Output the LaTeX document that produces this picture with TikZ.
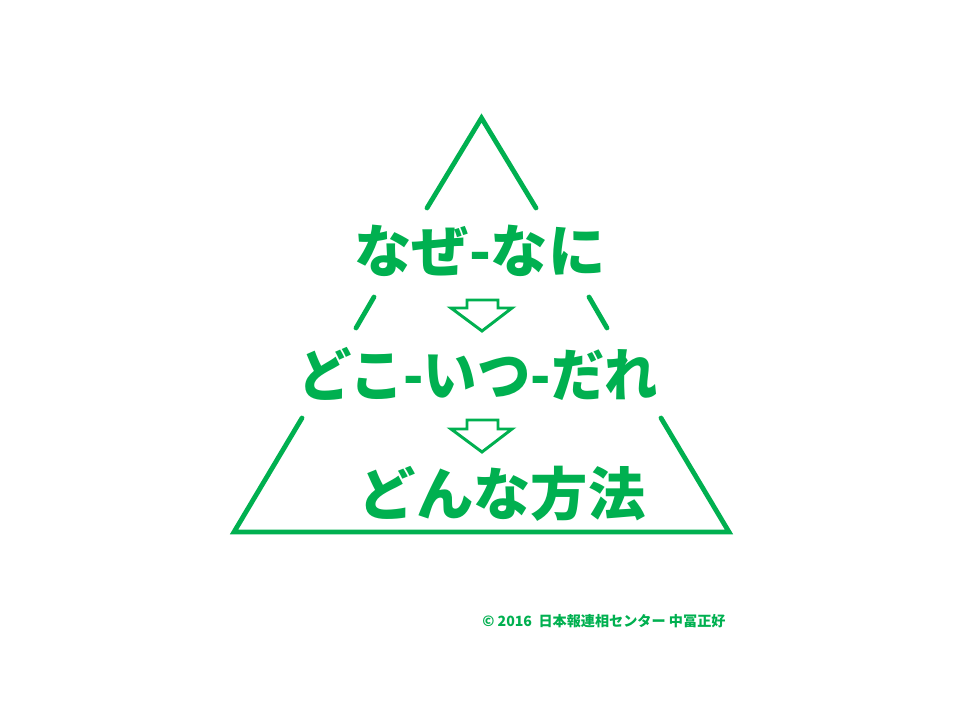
\documentclass[tikz,border=0pt]{standalone}
\usepackage{fontspec}
\newfontfamily\jp{Noto Sans CJK JP}
\definecolor{tgreen}{RGB}{0,176,80}
\tikzset{
  x=0.75pt,y=-0.75pt,
  edge/.style={draw=tgreen,line width=3.6pt,line cap=round},
  downarrow/.style={draw=tgreen,line width=2.2pt,line join=miter},
  bigtext/.style={text=tgreen,font=\jp\bfseries\fontsize{43pt}{50pt}\selectfont,inner sep=0pt},
  smalltext/.style={text=tgreen,font=\jp\bfseries\fontsize{10.6pt}{12pt}\selectfont,inner sep=0pt}
}
\begin{document}
\begin{tikzpicture}
\useasboundingbox (0,0) rectangle (960,720);
\fill[white] (0,0) rectangle (960,720);
% triangle corners and break points
\coordinate (apex) at (481.5,118);
\coordinate (bl) at (234,532);
\coordinate (br) at (729,532);
\coordinate (l1) at (427,208);
\coordinate (l2) at (374,297);
\coordinate (l3) at (356,328);
\coordinate (l4) at (302,418);
\coordinate (r1) at (536,208);
\coordinate (r2) at (589,297);
\coordinate (r3) at (607,328);
\coordinate (r4) at (661,418);
\draw[edge,line join=miter] (l1) -- (apex) -- (r1);
\draw[edge] (l2) -- (l3);
\draw[edge] (r2) -- (r3);
\draw[edge,line join=miter] (l4) -- (bl) -- (br) -- (r4);
% texts
\node[bigtext] (t1) at (480,251) {なぜ-なに};
\node[bigtext,xscale=0.93] (t2) at (478,374) {どこ-いつ-だれ};
\node[bigtext] (t3) at (502,494) {どんな方法};
% arrows
\draw[downarrow] (467,300) -- (498,300) -- (498,308) -- (512,308) -- (482,331) -- (451,308) -- (467,308) -- cycle;
\draw[downarrow] (467,420) -- (498,420) -- (498,429) -- (512,429) -- (482,452) -- (451,429) -- (467,429) -- cycle;
\node[smalltext,anchor=west] (copy) at (482,621) {© 2016\ \ 日本報連相センター 中冨正好};
\end{tikzpicture}
\end{document}
